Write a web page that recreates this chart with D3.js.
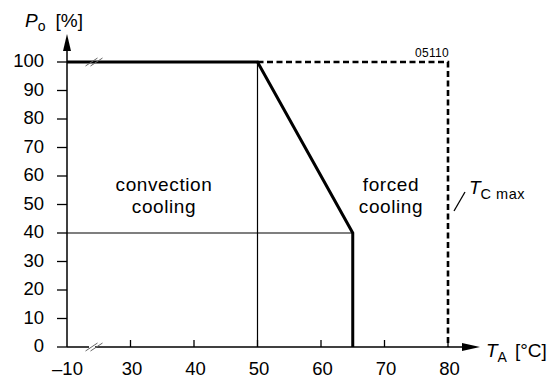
<!DOCTYPE html>
<html>
<head>
<meta charset="utf-8">
<script src="https://cdn.jsdelivr.net/npm/d3@7"></script>
<style>
  body { margin: 0; background: #fff; }
  svg { font-family: "Liberation Sans", Arial, sans-serif; }
</style>
</head>
<body>
<svg id="chart" width="558" height="379"></svg>
<script>
// x axis: the first tick is a broken-axis origin, drawn at position 20 but labelled -10
const xTicks = [20, 30, 40, 50, 60, 70, 80];
const xTickLabels = ["\u201310", "30", "40", "50", "60", "70", "80"];
const yTicks = [0, 10, 20, 30, 40, 50, 60, 70, 80, 90, 100];

// derating curve (ambient temp, output power %)
const derating = [[20, 100], [50, 100], [65, 40], [65, 0]];
// Tc max boundary
const tcMax = [[50, 100], [80, 100], [80, 0]];
// thin guide lines
const guides = [
  [[50, 100], [50, 0]],
  [[20, 40], [65, 40]]
];

const svg = d3.select("#chart");
const x = d3.scaleLinear().domain([20, 80]).range([67, 448]);
const y = d3.scaleLinear().domain([0, 100]).range([347, 62]);

const line = d3.line().x(d => x(d[0])).y(d => y(d[1]));

// guides
guides.forEach(g => {
    svg.append("path").attr("d", line(g))
        .attr("fill", "none").attr("stroke", "#000").attr("stroke-width", 1.2);
});

// dashed Tc max
svg.append("path").attr("d", line(tcMax))
    .attr("fill", "none").attr("stroke", "#000")
    .attr("stroke-width", 2.6).attr("stroke-dasharray", "6,3.5");

// derating curve
svg.append("path").attr("d", line(derating))
    .attr("fill", "none").attr("stroke", "#000")
    .attr("stroke-width", 3).attr("stroke-linejoin", "miter");

// axes
svg.append("line").attr("x1", x(20)).attr("x2", 468).attr("y1", y(0)).attr("y2", y(0))
    .attr("stroke", "#000").attr("stroke-width", 1.5);
svg.append("path").attr("d", "M480," + y(0) + " L462," + (y(0) - 4) + " L462," + (y(0) + 4) + "Z");
svg.append("line").attr("x1", x(20)).attr("x2", x(20)).attr("y1", y(0)).attr("y2", 48)
    .attr("stroke", "#000").attr("stroke-width", 1.5);
svg.append("path").attr("d", "M" + x(20) + ",34 L" + (x(20) - 4) + ",51 L" + (x(20) + 4) + ",51Z");

// y ticks
svg.selectAll(".yt").data(yTicks).join("line")
    .attr("x1", x(20) - 10).attr("x2", x(20))
    .attr("y1", d => y(d)).attr("y2", d => y(d))
    .attr("stroke", "#000").attr("stroke-width", 1.3);
svg.selectAll(".yl").data(yTicks).join("text")
    .attr("x", 44).attr("y", d => y(d) + 5)
    .attr("text-anchor", "end").attr("font-size", 18.5).text(d => d);

// x ticks (inside, pointing up)
svg.selectAll(".xt").data(xTicks.slice(1)).join("line")
    .attr("x1", d => x(d)).attr("x2", d => x(d))
    .attr("y1", y(0) - 7).attr("y2", y(0))
    .attr("stroke", "#000").attr("stroke-width", 1.3);
svg.selectAll(".xl").data(xTicks).join("text")
    .attr("x", (d, i) => i === 0 ? x(d) + 0.5 : x(d) + 1.5).attr("y", 375)
    .attr("text-anchor", "middle").attr("font-size", 18.5)
    .text((d, i) => xTickLabels[i]);

// break marks
function breakMark(cx, cy) {
    [-2.5, 2.5].forEach(o => {
        svg.append("line")
            .attr("x1", cx + o - 6).attr("y1", cy + 4)
            .attr("x2", cx + o + 6).attr("y2", cy - 4)
            .attr("stroke", "#666").attr("stroke-width", 1);
    });
}
svg.append("rect").attr("x", 89).attr("y", y(0) - 3).attr("width", 6).attr("height", 6).attr("fill", "#fff");
breakMark(94, y(0));
breakMark(94, y(100));

// axis titles
const yt = svg.append("text").attr("x", 25).attr("y", 27).attr("font-size", 19);
yt.append("tspan").attr("font-style", "italic").text("P");
yt.append("tspan").attr("font-size", 14).attr("dy", 4).text("o");
yt.append("tspan").attr("dy", -4).attr("dx", 10).text("[%]");

const xt = svg.append("text").attr("x", 486).attr("y", 357).attr("font-size", 19);
xt.append("tspan").attr("font-style", "italic").text("T");
xt.append("tspan").attr("font-size", 14).attr("dy", 5).text("A");
xt.append("tspan").attr("dy", -5).attr("dx", 8).text("[\u00b0C]");

// region labels
const labelStyle = sel => sel.attr("text-anchor", "middle")
    .attr("font-size", 19).attr("letter-spacing", 0.6);
[["convection", 191], ["cooling", 213]].forEach(t => {
    svg.append("text").attr("x", 164).attr("y", t[1]).call(labelStyle).text(t[0]);
});
[["forced", 191], ["cooling", 213]].forEach(t => {
    svg.append("text").attr("x", 391).attr("y", t[1]).call(labelStyle).text(t[0]);
});

// Tc max label
svg.append("line").attr("x1", 454).attr("y1", 211).attr("x2", 465).attr("y2", 192)
    .attr("stroke", "#000").attr("stroke-width", 1.3);
const tc = svg.append("text").attr("x", 469).attr("y", 194).attr("font-size", 19);
tc.append("tspan").attr("font-style", "italic").text("T");
tc.append("tspan").attr("font-size", 14.5).attr("dy", 5).attr("letter-spacing", 0.5).text("C max");

// figure number
svg.append("text").attr("x", 449).attr("y", 57).attr("text-anchor", "end")
    .attr("font-size", 12).attr("letter-spacing", 0.3).text("05110");
</script>
</body>
</html>
